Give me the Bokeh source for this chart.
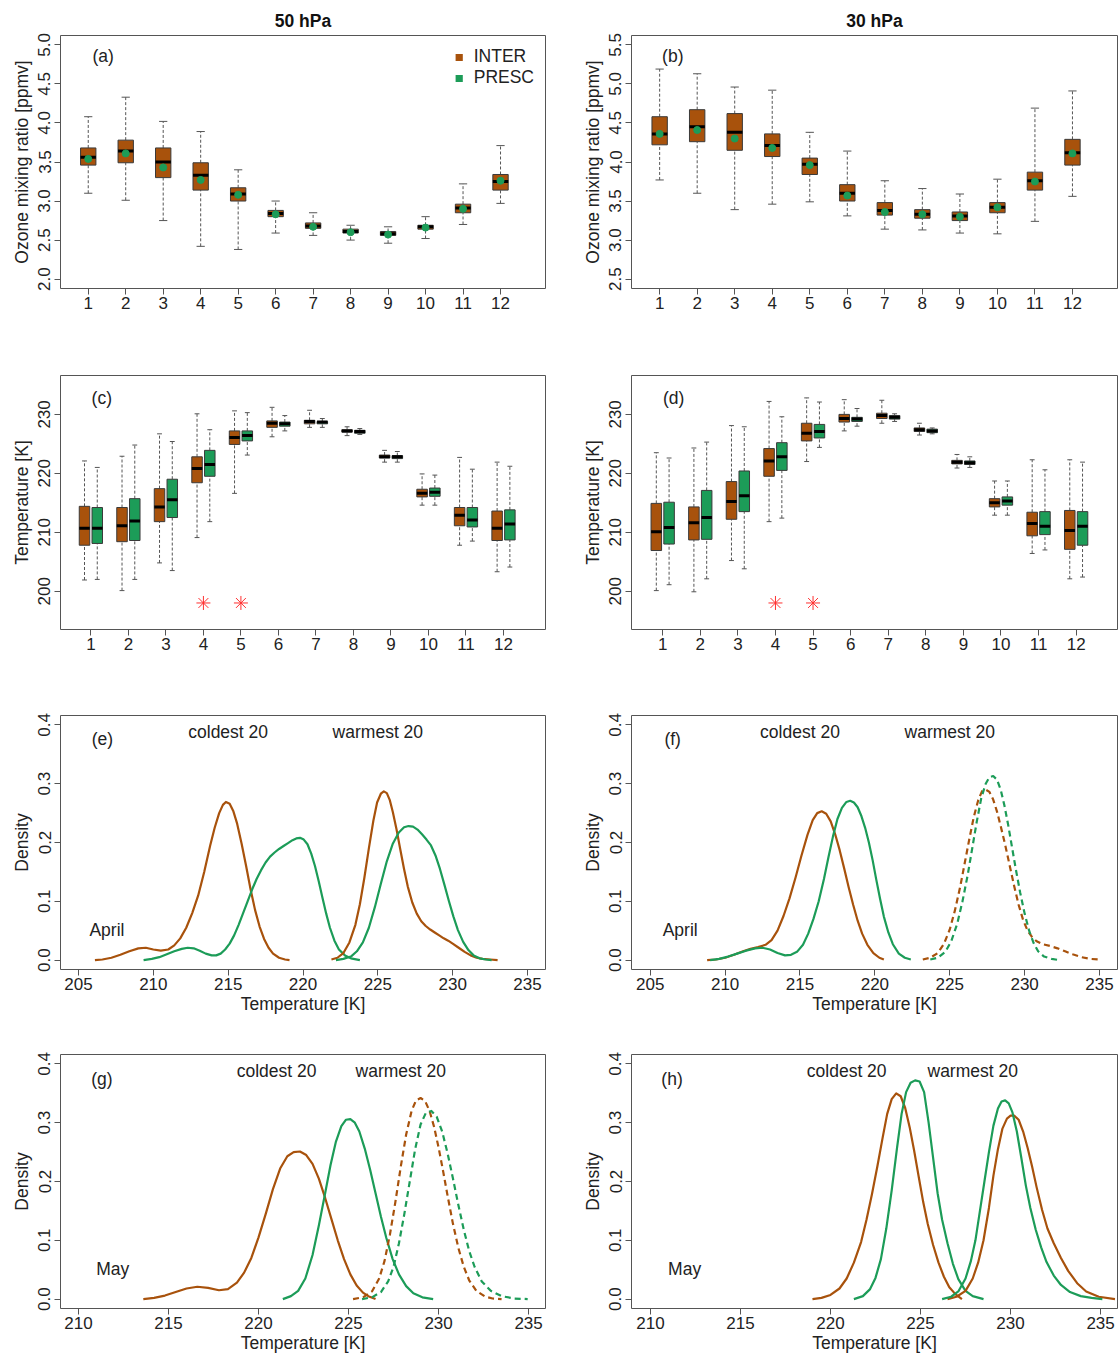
import numpy as np
from bokeh.plotting import figure
from bokeh.models import Range1d, FixedTicker, ColumnDataSource, Legend, LegendItem, Label
from bokeh.layouts import gridplot
from bokeh.embed import file_html
from bokeh.resources import INLINE

# ---------------- data ----------------
months = [1, 2, 3, 4, 5, 6, 7, 8, 9, 10, 11, 12]
month_labels = [str(m) for m in months]

# (a) ozone 50 hPa, INTER box stats and PRESC value
o50_lo = [3.10, 3.01, 2.75, 2.42, 2.38, 2.59, 2.56, 2.50, 2.46, 2.52, 2.70, 2.97]
o50_q1 = [3.46, 3.49, 3.30, 3.14, 3.00, 2.80, 2.65, 2.59, 2.56, 2.64, 2.85, 3.14]
o50_med = [3.56, 3.64, 3.50, 3.33, 3.09, 2.84, 2.68, 2.61, 2.58, 2.67, 2.91, 3.25]
o50_q3 = [3.68, 3.78, 3.68, 3.49, 3.17, 2.88, 2.72, 2.64, 2.61, 2.69, 2.96, 3.34]
o50_hi = [4.08, 4.33, 4.02, 3.89, 3.40, 3.00, 2.85, 2.69, 2.67, 2.80, 3.22, 3.71]
o50_presc = [3.54, 3.61, 3.43, 3.27, 3.08, 2.83, 2.67, 2.60, 2.57, 2.66, 2.90, 3.26]

# (b) ozone 30 hPa
o30_lo = [3.77, 3.60, 3.39, 3.46, 3.49, 3.31, 3.14, 3.13, 3.09, 3.08, 3.24, 3.56]
o30_q1 = [4.22, 4.26, 4.15, 4.07, 3.84, 3.50, 3.32, 3.28, 3.25, 3.35, 3.64, 3.96]
o30_med = [4.36, 4.45, 4.38, 4.21, 3.97, 3.60, 3.38, 3.33, 3.31, 3.42, 3.76, 4.12]
o30_q3 = [4.58, 4.67, 4.62, 4.36, 4.05, 3.71, 3.48, 3.39, 3.36, 3.48, 3.87, 4.29]
o30_hi = [5.19, 5.13, 4.96, 4.92, 4.38, 4.14, 3.76, 3.66, 3.59, 3.78, 4.69, 4.91]
o30_presc = [4.36, 4.41, 4.30, 4.18, 3.96, 3.57, 3.36, 3.33, 3.30, 3.42, 3.75, 4.11]

# (c) temperature 50 hPa
t50i_lo = [201.9, 200.1, 204.8, 209.1, 216.6, 226.2, 227.8, 226.4, 221.9, 214.6, 207.8, 203.3]
t50i_q1 = [207.8, 208.4, 211.8, 218.4, 224.9, 227.8, 228.4, 227.0, 222.6, 216.0, 211.1, 208.6]
t50i_med = [210.7, 211.1, 214.3, 220.8, 226.1, 228.5, 228.8, 227.2, 222.8, 216.6, 212.9, 210.7]
t50i_q3 = [214.4, 214.2, 217.4, 222.8, 227.2, 228.9, 229.0, 227.4, 223.1, 217.3, 214.2, 213.6]
t50i_hi = [222.1, 222.9, 226.7, 230.1, 230.6, 231.2, 230.7, 227.9, 223.9, 219.9, 222.7, 221.9]
t50p_lo = [202.0, 202.0, 203.5, 211.8, 223.1, 227.2, 227.8, 226.6, 221.9, 214.6, 208.5, 204.1]
t50p_q1 = [208.1, 208.6, 212.5, 219.5, 225.5, 228.0, 228.4, 226.8, 222.5, 216.1, 210.9, 208.7]
t50p_med = [210.7, 211.9, 215.5, 221.5, 226.4, 228.4, 228.7, 227.1, 222.8, 216.8, 212.1, 211.4]
t50p_q3 = [214.2, 215.7, 219.0, 223.9, 227.2, 228.7, 228.8, 227.3, 223.0, 217.5, 214.2, 213.8]
t50p_hi = [221.0, 224.8, 225.4, 227.4, 230.3, 229.8, 229.3, 227.6, 223.7, 219.7, 220.7, 221.2]

# (d) temperature 30 hPa
t30i_lo = [200.1, 199.9, 205.2, 211.8, 222.0, 227.2, 228.5, 226.5, 220.9, 212.9, 206.4, 202.1]
t30i_q1 = [206.9, 208.7, 212.2, 219.5, 225.5, 228.7, 229.3, 227.1, 221.6, 214.3, 209.4, 207.1]
t30i_med = [210.1, 211.6, 215.2, 222.1, 226.8, 229.3, 229.8, 227.4, 221.9, 215.0, 211.5, 210.3]
t30i_q3 = [214.9, 214.3, 218.6, 224.2, 228.5, 230.0, 230.2, 227.7, 222.2, 215.7, 213.4, 213.7]
t30i_hi = [223.5, 224.3, 228.1, 232.2, 232.8, 232.5, 232.4, 228.5, 223.2, 218.7, 222.3, 222.3]
t30p_lo = [201.1, 202.1, 203.8, 212.4, 224.4, 228.0, 228.8, 226.7, 221.0, 212.9, 207.0, 202.4]
t30p_q1 = [208.0, 208.8, 213.5, 220.5, 226.0, 228.8, 229.2, 226.9, 221.5, 214.6, 209.6, 207.8]
t30p_med = [210.8, 212.5, 216.2, 222.8, 227.1, 229.2, 229.5, 227.2, 221.8, 215.3, 211.0, 211.0]
t30p_q3 = [215.1, 217.1, 220.4, 225.2, 228.3, 229.5, 229.8, 227.5, 222.1, 216.0, 213.5, 213.5]
t30p_hi = [222.6, 225.3, 227.9, 229.6, 232.1, 231.0, 230.1, 227.7, 222.8, 218.7, 220.6, 221.9]

sig_months = [4, 5]
sig_level = [198.0, 198.0]

# (e) April 50 hPa densities (ic = INTER coldest, pc = PRESC coldest, iw/pw = warmest)
e_ic_x = [206.1, 206.6, 207.2, 207.8, 208.4, 209.0, 209.5, 210.0, 210.5, 211.0, 211.4, 211.8, 212.2, 212.6, 213.0, 213.4, 213.8, 214.1, 214.4, 214.65, 214.85, 215.1, 215.35, 215.6, 215.9, 216.2, 216.5, 216.8, 217.1, 217.4, 217.7, 218.0, 218.4, 218.8, 219.1]
e_ic_y = [0.000, 0.001, 0.004, 0.009, 0.015, 0.020, 0.021, 0.018, 0.016, 0.018, 0.025, 0.037, 0.055, 0.080, 0.110, 0.150, 0.195, 0.225, 0.250, 0.264, 0.269, 0.266, 0.253, 0.232, 0.198, 0.160, 0.120, 0.085, 0.057, 0.036, 0.021, 0.011, 0.004, 0.001, 0.000]
e_pc_x = [209.35, 209.9, 210.4, 210.9, 211.4, 211.9, 212.3, 212.7, 213.1, 213.5, 213.9, 214.2, 214.5, 214.8, 215.1, 215.4, 215.7, 216.0, 216.3, 216.6, 216.9, 217.2, 217.5, 217.8, 218.1, 218.4, 218.7, 219.0, 219.3, 219.55, 219.8, 220.05, 220.3, 220.55, 220.8, 221.05, 221.3, 221.55, 221.8, 222.1, 222.4, 222.8, 223.2, 223.8]
e_pc_y = [0.000, 0.002, 0.005, 0.010, 0.015, 0.019, 0.021, 0.020, 0.016, 0.011, 0.008, 0.008, 0.011, 0.018, 0.028, 0.042, 0.060, 0.080, 0.100, 0.120, 0.138, 0.153, 0.166, 0.176, 0.183, 0.189, 0.194, 0.199, 0.204, 0.207, 0.208, 0.205, 0.197, 0.181, 0.160, 0.134, 0.106, 0.079, 0.055, 0.033, 0.018, 0.008, 0.003, 0.000]
e_iw_x = [221.9, 222.3, 222.7, 223.1, 223.5, 223.8, 224.1, 224.4, 224.7, 224.95, 225.2, 225.4, 225.6, 225.8, 226.0, 226.25, 226.5, 226.75, 227.0, 227.3, 227.6, 227.9, 228.2, 228.5, 228.8, 229.1, 229.4, 229.7, 230.0, 230.4, 230.8, 231.2, 231.6, 232.0, 232.5, 233.0]
e_iw_y = [0.001, 0.004, 0.012, 0.030, 0.060, 0.095, 0.140, 0.190, 0.237, 0.268, 0.283, 0.287, 0.284, 0.272, 0.252, 0.222, 0.188, 0.155, 0.125, 0.098, 0.079, 0.066, 0.058, 0.052, 0.047, 0.042, 0.037, 0.033, 0.028, 0.021, 0.014, 0.008, 0.004, 0.002, 0.001, 0.000]
e_pw_x = [222.2, 222.7, 223.2, 223.6, 224.0, 224.4, 224.8, 225.2, 225.6, 226.0, 226.4, 226.75, 227.05, 227.35, 227.65, 227.95, 228.25, 228.55, 228.85, 229.15, 229.45, 229.75, 230.05, 230.35, 230.7, 231.05, 231.4, 231.8, 232.2, 232.6]
e_pw_y = [0.000, 0.002, 0.006, 0.015, 0.030, 0.055, 0.090, 0.130, 0.168, 0.198, 0.217, 0.226, 0.228, 0.227, 0.222, 0.214, 0.205, 0.195, 0.178, 0.155, 0.128, 0.100, 0.074, 0.051, 0.031, 0.017, 0.008, 0.003, 0.001, 0.000]

# (f) April 30 hPa densities
f_ic_x = [208.8, 209.4, 210.0, 210.6, 211.2, 211.7, 212.2, 212.7, 213.1, 213.5, 213.9, 214.3, 214.7, 215.1, 215.5, 215.85, 216.15, 216.45, 216.75, 217.05, 217.35, 217.65, 217.95, 218.25, 218.55, 218.85, 219.15, 219.5, 219.9, 220.3, 220.6]
f_ic_y = [0.000, 0.001, 0.004, 0.009, 0.015, 0.019, 0.022, 0.026, 0.034, 0.050, 0.075, 0.105, 0.140, 0.178, 0.213, 0.238, 0.250, 0.253, 0.249, 0.236, 0.214, 0.187, 0.156, 0.124, 0.094, 0.067, 0.045, 0.026, 0.012, 0.004, 0.001]
f_pc_x = [209.0, 209.6, 210.2, 210.8, 211.4, 212.0, 212.5, 213.0, 213.5, 214.0, 214.4, 214.8, 215.2, 215.55, 215.9, 216.25, 216.6, 216.9, 217.2, 217.5, 217.8, 218.1, 218.35, 218.6, 218.85, 219.1, 219.35, 219.6, 219.85, 220.1, 220.35, 220.6, 220.9, 221.2, 221.6, 222.0, 222.4]
f_pc_y = [0.000, 0.002, 0.006, 0.011, 0.016, 0.020, 0.021, 0.018, 0.012, 0.008, 0.009, 0.014, 0.026, 0.045, 0.070, 0.100, 0.138, 0.175, 0.210, 0.240, 0.259, 0.269, 0.271, 0.268, 0.260, 0.245, 0.225, 0.200, 0.170, 0.136, 0.104, 0.074, 0.047, 0.027, 0.011, 0.004, 0.001]
f_iw_x = [223.2, 223.7, 224.2, 224.6, 225.0, 225.35, 225.7, 226.0, 226.3, 226.6, 226.9, 227.15, 227.4, 227.65, 227.9, 228.15, 228.4, 228.7, 229.0, 229.3, 229.6, 229.9, 230.2, 230.5, 230.8, 231.2, 231.7, 232.2, 232.7, 233.2, 233.8, 234.4, 235.0]
f_iw_y = [0.001, 0.004, 0.012, 0.027, 0.052, 0.085, 0.125, 0.165, 0.205, 0.243, 0.272, 0.287, 0.290, 0.286, 0.273, 0.253, 0.228, 0.196, 0.161, 0.126, 0.094, 0.068, 0.050, 0.039, 0.032, 0.027, 0.024, 0.020, 0.015, 0.010, 0.005, 0.002, 0.001]
f_pw_x = [223.7, 224.2, 224.7, 225.1, 225.5, 225.85, 226.2, 226.5, 226.8, 227.1, 227.4, 227.65, 227.9, 228.15, 228.4, 228.65, 228.9, 229.15, 229.4, 229.7, 230.0, 230.3, 230.6, 230.9, 231.3, 231.8, 232.3]
f_pw_y = [0.001, 0.004, 0.014, 0.032, 0.062, 0.100, 0.145, 0.190, 0.235, 0.275, 0.300, 0.311, 0.313, 0.307, 0.290, 0.263, 0.230, 0.193, 0.156, 0.115, 0.079, 0.050, 0.029, 0.015, 0.006, 0.002, 0.000]

# (g) May 50 hPa densities
g_ic_x = [213.6, 214.2, 214.8, 215.4, 216.0, 216.6, 217.2, 217.8, 218.3, 218.8, 219.2, 219.6, 220.0, 220.4, 220.8, 221.2, 221.6, 221.95, 222.3, 222.65, 223.0, 223.35, 223.7, 224.05, 224.4, 224.75, 225.1, 225.45, 225.8, 226.1, 226.5]
g_ic_y = [0.000, 0.002, 0.006, 0.012, 0.018, 0.021, 0.019, 0.015, 0.017, 0.028, 0.045, 0.070, 0.105, 0.145, 0.187, 0.222, 0.243, 0.250, 0.251, 0.245, 0.230, 0.205, 0.172, 0.136, 0.100, 0.068, 0.042, 0.023, 0.011, 0.005, 0.000]
g_pc_x = [221.35, 221.8, 222.2, 222.6, 223.0, 223.35, 223.7, 224.0, 224.3, 224.6, 224.85, 225.1, 225.35, 225.6, 225.9, 226.2, 226.5, 226.8, 227.1, 227.45, 227.8, 228.2, 228.6, 229.1, 229.7]
g_pc_y = [0.000, 0.005, 0.014, 0.035, 0.075, 0.125, 0.180, 0.228, 0.268, 0.294, 0.305, 0.306, 0.300, 0.285, 0.256, 0.220, 0.180, 0.140, 0.104, 0.068, 0.042, 0.022, 0.010, 0.003, 0.000]
g_iw_x = [225.25, 225.8, 226.3, 226.7, 227.0, 227.3, 227.6, 227.9, 228.2, 228.5, 228.75, 229.0, 229.25, 229.5, 229.75, 230.0, 230.25, 230.5, 230.8, 231.1, 231.4, 231.7, 232.1, 232.6, 233.0, 233.5]
g_iw_y = [0.000, 0.003, 0.013, 0.035, 0.065, 0.110, 0.165, 0.225, 0.280, 0.320, 0.338, 0.342, 0.337, 0.320, 0.293, 0.258, 0.218, 0.176, 0.128, 0.087, 0.055, 0.032, 0.014, 0.004, 0.001, 0.000]
g_pw_x = [225.75, 226.3, 226.8, 227.2, 227.5, 227.8, 228.1, 228.4, 228.7, 229.0, 229.3, 229.6, 229.9, 230.2, 230.5, 230.8, 231.1, 231.4, 231.7, 232.0, 232.4, 232.9, 233.5, 234.2, 234.95]
g_pw_y = [0.000, 0.003, 0.012, 0.030, 0.055, 0.095, 0.145, 0.200, 0.255, 0.297, 0.317, 0.320, 0.310, 0.285, 0.248, 0.205, 0.160, 0.118, 0.082, 0.055, 0.030, 0.014, 0.005, 0.001, 0.000]

# (h) May 30 hPa densities
h_ic_x = [219.0, 219.5, 220.0, 220.5, 220.9, 221.3, 221.7, 222.0, 222.3, 222.6, 222.9, 223.15, 223.4, 223.65, 223.9, 224.15, 224.4, 224.65, 224.9, 225.15, 225.4, 225.7, 226.0, 226.3, 226.6, 226.95, 227.3]
h_ic_y = [0.000, 0.002, 0.007, 0.018, 0.035, 0.062, 0.097, 0.135, 0.178, 0.225, 0.275, 0.315, 0.340, 0.350, 0.345, 0.325, 0.292, 0.252, 0.208, 0.165, 0.128, 0.092, 0.062, 0.038, 0.020, 0.008, 0.000]
h_pc_x = [221.3, 221.8, 222.2, 222.5, 222.8, 223.1, 223.4, 223.7, 223.95, 224.2, 224.45, 224.7, 224.95, 225.2, 225.45, 225.7, 225.95, 226.2, 226.5, 226.8, 227.1, 227.5, 227.9, 228.5]
h_pc_y = [0.000, 0.005, 0.017, 0.036, 0.068, 0.120, 0.185, 0.258, 0.315, 0.352, 0.368, 0.372, 0.370, 0.352, 0.300, 0.240, 0.180, 0.135, 0.095, 0.060, 0.034, 0.014, 0.005, 0.000]
h_iw_x = [226.5, 227.0, 227.5, 227.9, 228.2, 228.5, 228.8, 229.05, 229.3, 229.55, 229.8, 230.0, 230.2, 230.45, 230.7, 230.95, 231.2, 231.45, 231.75, 232.05, 232.4, 232.8, 233.2, 233.7, 234.2, 234.9, 235.8]
h_iw_y = [0.000, 0.004, 0.014, 0.035, 0.062, 0.100, 0.155, 0.210, 0.255, 0.290, 0.307, 0.312, 0.312, 0.305, 0.285, 0.257, 0.225, 0.190, 0.152, 0.120, 0.095, 0.070, 0.048, 0.027, 0.013, 0.004, 0.000]
h_pw_x = [226.2, 226.7, 227.1, 227.5, 227.8, 228.05, 228.3, 228.55, 228.8, 229.05, 229.3, 229.5, 229.7, 229.9, 230.1, 230.35, 230.6, 230.85, 231.1, 231.4, 231.7, 232.0, 232.4, 232.8, 233.3, 233.9, 234.5, 235.1]
h_pw_y = [0.000, 0.004, 0.013, 0.035, 0.065, 0.100, 0.150, 0.200, 0.250, 0.295, 0.324, 0.336, 0.338, 0.333, 0.318, 0.285, 0.240, 0.193, 0.155, 0.118, 0.088, 0.063, 0.040, 0.024, 0.012, 0.005, 0.002, 0.000]

# ---------------- style ----------------
BROWN = "#A8520C"
GREEN = "#1C9C58"
FONT = "Liberation Sans"
FS_TICK = "17px"
FS_LAB = "17.5px"
FS_TXT = "17.5px"
FRAME = "#555555"


def make_fig(width, height, xr, yr, left, right, top, bottom, xticks, yticks, ylabels,
             ylab, xlab=None, xtick_labels=None, title=None):
    p = figure(width=width, height=height, x_range=Range1d(*xr), y_range=Range1d(*yr),
               output_backend="svg", toolbar_location=None,
               min_border_left=left, min_border_right=right,
               min_border_top=top, min_border_bottom=bottom)
    p.xgrid.visible = False
    p.ygrid.visible = False
    p.outline_line_color = FRAME
    p.outline_line_width = 1
    p.background_fill_color = "white"
    p.border_fill_color = "white"
    for ax in (p.xaxis[0], p.yaxis[0]):
        ax.axis_line_color = None
        ax.major_tick_line_color = FRAME
        ax.major_tick_out = 6
        ax.major_tick_in = 0
        ax.minor_tick_line_color = None
        ax.major_label_text_font = FONT
        ax.major_label_text_font_size = FS_TICK
        ax.major_label_text_color = "#222222"
        ax.axis_label_text_font = FONT
        ax.axis_label_text_font_size = FS_LAB
        ax.axis_label_text_font_style = "normal"
        ax.axis_label_text_color = "#222222"
    p.xaxis.ticker = FixedTicker(ticks=xticks)
    if xtick_labels is not None:
        p.xaxis.major_label_overrides = {t: l for t, l in zip(xticks, xtick_labels)}
    p.xaxis.major_label_standoff = 2
    p.xaxis.axis_label_standoff = 1
    p.yaxis.ticker = FixedTicker(ticks=yticks)
    p.yaxis.major_label_overrides = {t: l for t, l in zip(yticks, ylabels)}
    p.yaxis.major_label_orientation = "vertical"
    p.yaxis.major_label_standoff = 4
    p.yaxis.axis_label_standoff = 4
    p.yaxis.axis_label = ylab
    if xlab:
        p.xaxis.axis_label = xlab
    if title:
        p.title.text = title
        p.title.align = "center"
        p.title.text_font = FONT
        p.title.text_font_size = "17.5px"
        p.title.text_font_style = "bold"
        p.title.text_color = "#111111"
    return p


def txt(p, x, y, s, align="center"):
    p.add_layout(Label(x=x, y=y, text=s, text_font=FONT, text_font_size=FS_TXT,
                       text_color="#222222", text_align=align, text_baseline="middle"))


def boxes(p, xs, lo, q1, med, q3, hi, color, bw, capw):
    xs = np.asarray(xs, dtype=float)
    src = ColumnDataSource(dict(x=xs, lo=lo, q1=q1, med=med, q3=q3, hi=hi,
                                l=xs - bw / 2, r=xs + bw / 2,
                                cl=xs - capw / 2, cr=xs + capw / 2))
    p.segment(x0="x", y0="q3", x1="x", y1="hi", source=src, line_color="#555555",
              line_width=1, line_dash="3 2")
    p.segment(x0="x", y0="lo", x1="x", y1="q1", source=src, line_color="#555555",
              line_width=1, line_dash="3 2")
    p.segment(x0="cl", y0="hi", x1="cr", y1="hi", source=src, line_color="#555555", line_width=1)
    p.segment(x0="cl", y0="lo", x1="cr", y1="lo", source=src, line_color="#555555", line_width=1)
    p.quad(left="l", right="r", bottom="q1", top="q3", source=src, fill_color=color,
           line_color="#3a3a3a", line_width=1)
    p.segment(x0="l", y0="med", x1="r", y1="med", source=src, line_color="black", line_width=3)


def curve(p, xs, ys, color, dash="solid"):
    p.line(xs, ys, line_color=color, line_width=2.2, line_dash=dash, line_join="round")


# page geometry
W1, W2 = 560, 558
L1, R1 = 60, 15
L2, R2 = 71, 1
ROW_H = [340, 340, 340, 336]
ROW_T = [35, 35, 35, 34]
ROW_B = [52, 51, 51, 48]

oz_y1 = [2.0, 2.5, 3.0, 3.5, 4.0, 4.5, 5.0]
oz_y2 = [2.5, 3.0, 3.5, 4.0, 4.5, 5.0, 5.5]
t_y = [200, 210, 220, 230]
d_y = [0.0, 0.1, 0.2, 0.3, 0.4]
d_lab = ["0.0", "0.1", "0.2", "0.3", "0.4"]
m = np.array(months, dtype=float)

# ---- (a)
xa, ya = (0.26, 13.2), (1.88, 5.12)
pa = make_fig(W1, ROW_H[0], xa, ya, L1, R1, ROW_T[0], ROW_B[0], months, oz_y1,
              ["%.1f" % v for v in oz_y1], "Ozone mixing ratio [ppmv]",
              xtick_labels=month_labels, title="50 hPa")
boxes(pa, m, o50_lo, o50_q1, o50_med, o50_q3, o50_hi, BROWN, 0.41, 0.22)
pa.scatter(m, o50_presc, size=7, color=GREEN)
txt(pa, 1.4, 4.86, "(a)")
r_int = pa.scatter([np.nan], [np.nan], marker="square", size=8, fill_color=BROWN, line_color=None)
r_pre = pa.scatter([np.nan], [np.nan], marker="square", size=8, fill_color=GREEN, line_color=None)
leg = Legend(items=[LegendItem(label="INTER", renderers=[r_int]),
                    LegendItem(label="PRESC", renderers=[r_pre])],
             location="top_right", border_line_color=None, background_fill_alpha=0,
             label_text_font=FONT, label_text_font_size=FS_TXT, label_text_color="#222222",
             glyph_width=18, glyph_height=18, label_height=21, spacing=0,
             margin=11, padding=6, label_standoff=6)
pa.add_layout(leg)

# ---- (b)
xb, yb = (0.25, 13.2), (2.38, 5.62)
pb = make_fig(W2, ROW_H[0], xb, yb, L2, R2, ROW_T[0], ROW_B[0], months, oz_y2,
              ["%.1f" % v for v in oz_y2], "Ozone mixing ratio [ppmv]",
              xtick_labels=month_labels, title="30 hPa")
boxes(pb, m, o30_lo, o30_q1, o30_med, o30_q3, o30_hi, BROWN, 0.41, 0.22)
pb.scatter(m, o30_presc, size=7, color=GREEN)
txt(pb, 1.35, 5.36, "(b)")

# ---- (c)
xc, yc = (0.19, 13.12), (193.5, 236.6)
pc = make_fig(W1, ROW_H[1], xc, yc, L1, R1, ROW_T[1], ROW_B[1], months, t_y,
              [str(v) for v in t_y], "Temperature [K]", xtick_labels=month_labels)
boxes(pc, m - 0.17, t50i_lo, t50i_q1, t50i_med, t50i_q3, t50i_hi, BROWN, 0.28, 0.13)
boxes(pc, m + 0.17, t50p_lo, t50p_q1, t50p_med, t50p_q3, t50p_hi, GREEN, 0.28, 0.13)
pc.scatter(sig_months, sig_level, marker="asterisk", size=14, line_color="#FF3030", line_width=1)
txt(pc, 1.29, 232.8, "(c)")

# ---- (d)
xd, yd = (0.17, 13.1), (193.5, 236.6)
pd_ = make_fig(W2, ROW_H[1], xd, yd, L2, R2, ROW_T[1], ROW_B[1], months, t_y,
               [str(v) for v in t_y], "Temperature [K]", xtick_labels=month_labels)
boxes(pd_, m - 0.17, t30i_lo, t30i_q1, t30i_med, t30i_q3, t30i_hi, BROWN, 0.28, 0.13)
boxes(pd_, m + 0.17, t30p_lo, t30p_q1, t30p_med, t30p_q3, t30p_hi, GREEN, 0.28, 0.13)
pd_.scatter(sig_months, sig_level, marker="asterisk", size=14, line_color="#FF3030", line_width=1)
txt(pd_, 1.29, 232.8, "(d)")

DASH = "6 4"
xt1 = [205, 210, 215, 220, 225, 230, 235]
xt2 = [210, 215, 220, 225, 230, 235]
dy_r = (-0.016, 0.416)

# ---- (e)
xe = (203.8, 236.2)
pe = make_fig(W1, ROW_H[2], xe, dy_r, L1, R1, ROW_T[2], ROW_B[2], xt1, d_y, d_lab,
              "Density", xlab="Temperature [K]")
curve(pe, e_ic_x, e_ic_y, BROWN)
curve(pe, e_pc_x, e_pc_y, GREEN)
curve(pe, e_iw_x, e_iw_y, BROWN)
curve(pe, e_pw_x, e_pw_y, GREEN)
txt(pe, 206.6, 0.376, "(e)")
txt(pe, 215.0, 0.388, "coldest 20")
txt(pe, 225.0, 0.388, "warmest 20")
txt(pe, 206.9, 0.052, "April")

# ---- (f)
xf = (203.75, 236.2)
pf = make_fig(W2, ROW_H[2], xf, dy_r, L2, R2, ROW_T[2], ROW_B[2], xt1, d_y, d_lab,
              "Density", xlab="Temperature [K]")
curve(pf, f_ic_x, f_ic_y, BROWN)
curve(pf, f_pc_x, f_pc_y, GREEN)
curve(pf, f_iw_x, f_iw_y, BROWN, DASH)
curve(pf, f_pw_x, f_pw_y, GREEN, DASH)
txt(pf, 206.5, 0.376, "(f)")
txt(pf, 215.0, 0.388, "coldest 20")
txt(pf, 225.0, 0.388, "warmest 20")
txt(pf, 207.0, 0.052, "April")

# ---- (g)
xg = (209.0, 235.94)
pg = make_fig(W1, ROW_H[3], xg, dy_r, L1, R1, ROW_T[3], ROW_B[3], xt2, d_y, d_lab,
              "Density", xlab="Temperature [K]")
curve(pg, g_ic_x, g_ic_y, BROWN)
curve(pg, g_pc_x, g_pc_y, GREEN)
curve(pg, g_iw_x, g_iw_y, BROWN, DASH)
curve(pg, g_pw_x, g_pw_y, GREEN, DASH)
txt(pg, 211.3, 0.374, "(g)")
txt(pg, 221.0, 0.388, "coldest 20")
txt(pg, 227.9, 0.388, "warmest 20")
txt(pg, 211.9, 0.052, "May")

# ---- (h)
xh = (208.95, 235.94)
ph = make_fig(W2, ROW_H[3], xh, dy_r, L2, R2, ROW_T[3], ROW_B[3], xt2, d_y, d_lab,
              "Density", xlab="Temperature [K]")
curve(ph, h_ic_x, h_ic_y, BROWN)
curve(ph, h_pc_x, h_pc_y, GREEN)
curve(ph, h_iw_x, h_iw_y, BROWN)
curve(ph, h_pw_x, h_pw_y, GREEN)
txt(ph, 211.2, 0.374, "(h)")
txt(ph, 220.9, 0.388, "coldest 20")
txt(ph, 227.9, 0.388, "warmest 20")
txt(ph, 211.9, 0.052, "May")

grid = gridplot([[pa, pb], [pc, pd_], [pe, pf], [pg, ph]], toolbar_location=None)

open("out.html", "w").write(file_html(grid, INLINE))
